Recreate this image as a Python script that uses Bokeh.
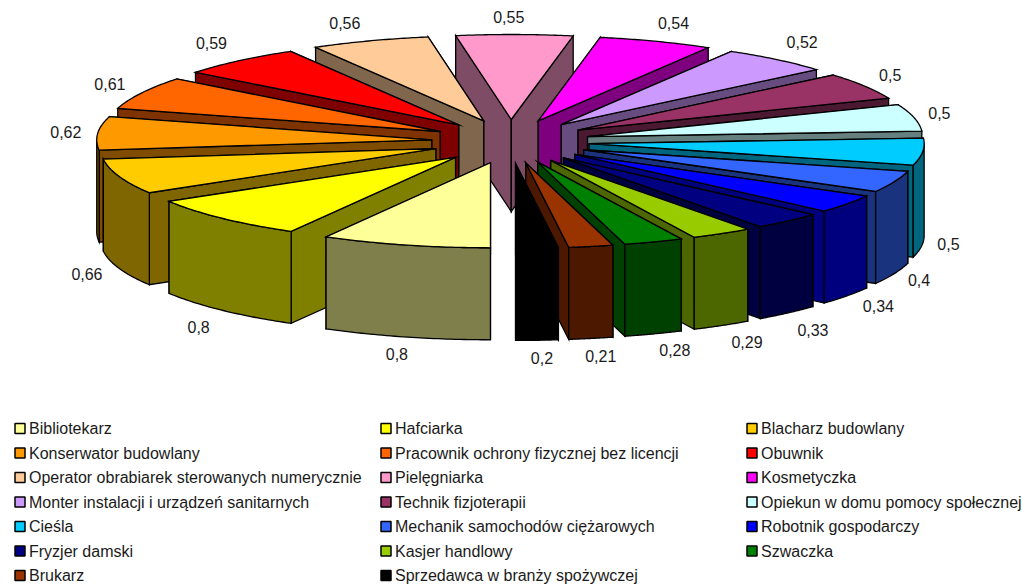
import numpy as np
from bokeh.plotting import figure
from bokeh.models import Range1d
from bokeh.embed import file_html
from bokeh.resources import INLINE
from bokeh.core.properties import value as fixed

categories = ["Bibliotekarz", "Hafciarka", "Blacharz budowlany", "Konserwator budowlany",
              "Pracownik ochrony fizycznej bez licencji", "Obuwnik",
              "Operator obrabiarek sterowanych numerycznie", "Pielęgniarka", "Kosmetyczka",
              "Monter instalacji i urządzeń sanitarnych", "Technik fizjoterapii",
              "Opiekun w domu pomocy społecznej", "Cieśla", "Mechanik samochodów ciężarowych",
              "Robotnik gospodarczy", "Fryzjer damski", "Kasjer handlowy", "Szwaczka",
              "Brukarz", "Sprzedawca w branży spożywczej"]
values = [0.8, 0.8, 0.66, 0.62, 0.61, 0.59, 0.56, 0.55, 0.54, 0.52,
          0.5, 0.5, 0.5, 0.4, 0.34, 0.33, 0.29, 0.28, 0.21, 0.2]
colors = ["#FFFF99", "#FFFF00", "#FFCC00", "#FF9900", "#FF6600", "#FF0000", "#FFCC99",
          "#FF99CC", "#FF00FF", "#CC99FF", "#993366", "#CCFFFF", "#00CCFF", "#3366FF",
          "#0000FF", "#000080", "#99CC00", "#008000", "#993300", "#000000"]

W, H = 1025, 588
CX, CY = 510.0, 141.0
RX, RY = 335.0, 85.0
EX, EY = 79.0, 22.0
DEPTH = 92.0
FONT = "Liberation Sans"
# small layout adjustments of the value labels, in pixels
nudge_x = [-1, -3, -4, -2, -5, -8, -15, -6, 7, 6, 0, -4, -4, -3, 7, 5, 10, 11, 4, 3]
nudge_y = [0, 4, 0, 0, -1, -4, -1, 0, -1, -4, -2, -1, -2, 0, 0, 4, 1, -1, 0, 0]


def darker(c):
    return "#%02X%02X%02X" % tuple(int(c[i:i + 2], 16) // 2 for i in (1, 3, 5))


def pt(theta, ox, oy, r=1.0):
    return ox - RX * r * np.sin(theta), oy + RY * r * np.cos(theta)


total = sum(values)
edges = np.concatenate([[0], np.cumsum(values)]) / total * 2 * np.pi
slices = []
for i, col in enumerate(colors):
    a0, a1 = edges[i], edges[i + 1]
    mid = (a0 + a1) / 2
    ox = CX - EX * np.sin(mid)
    oy = CY + EY * np.cos(mid)
    slices.append((np.cos(mid), a0, a1, mid, ox, oy, col))

xs, ys, fills = [], [], []
for _, a0, a1, mid, ox, oy, col in sorted(slices, key=lambda s: s[0]):
    side = darker(col)
    ang = np.linspace(a0, a1, 40)
    for b in (np.pi / 2, 3 * np.pi / 2):
        if a0 < b < a1:
            ang = np.sort(np.append(ang, b))
    ax, ay = pt(ang, ox, oy)
    walls = []
    for t in (a0, a1):
        bx, by = pt(t, ox, oy)
        walls.append(([ox, bx, bx, ox], [oy, by, by + DEPTH, oy + DEPTH]))
    walls.sort(key=lambda w: np.mean(w[1]))
    for wx, wy in walls:
        xs.append(wx)
        ys.append(wy)
        fills.append(side)
    mask = np.cos(ang) >= -1e-9
    if mask.sum() >= 2:
        fx, fy = ax[mask], ay[mask]
        xs.append(list(fx) + list(fx[::-1]))
        ys.append(list(fy) + list(fy[::-1] + DEPTH))
        fills.append(side)
    xs.append([ox] + list(ax))
    ys.append([oy] + list(ay))
    fills.append(col)

p = figure(width=W, height=H, output_backend="svg", toolbar_location=None,
           x_range=Range1d(0, W), y_range=Range1d(H, 0),
           min_border=0, outline_line_color=None, background_fill_color="white",
           border_fill_color="white")
p.axis.visible = False
p.grid.visible = False

p.patches(xs, ys, fill_color=fills, line_color="black", line_width=1.3, line_join="miter")

# value labels
lx, ly, lt = [], [], []
for i, (v, (c, a0, a1, mid, ox, oy, col)) in enumerate(zip(values, slices)):
    s, co = np.sin(mid), np.cos(mid)
    lx.append(CX - (RX + EX + 30) * s + nudge_x[i])
    ly.append(CY + (RY + EY + 18) * co + (DEPTH if co > 0 else 0) + nudge_y[i])
    lt.append(str(v).replace(".", ","))
p.text(lx, ly, text=lt, text_font=fixed(FONT), text_font_size="16px", text_color="#1a1a1a",
       text_align="center", text_baseline="middle")

# legend
col_x = [14.0, 380.0, 746.0]
row_y = [428.0, 452.5, 477.0, 501.5, 526.0, 550.5, 575.0]
sx = [col_x[i % 3] + 5.5 for i in range(len(categories))]
sy = [row_y[i // 3] for i in range(len(categories))]
p.scatter(sx, sy, marker="square", size=10, fill_color=colors, line_color="black", line_width=1.5)
p.text([x + 9.0 for x in sx], sy, text=categories, text_font=fixed(FONT), text_font_size="16px",
       text_color="#1a1a1a", text_align="left", text_baseline="middle")

open("out.html", "w").write(file_html(p, INLINE))
